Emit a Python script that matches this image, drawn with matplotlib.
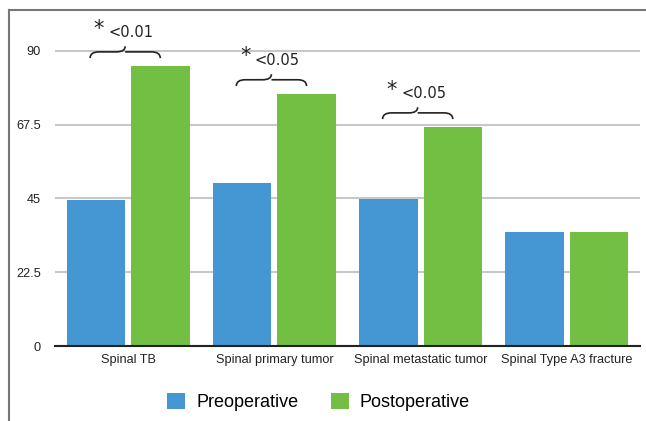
import numpy as np
import matplotlib.pyplot as plt
import matplotlib as mpl
from matplotlib.path import Path
from matplotlib.patches import PathPatch
from matplotlib.lines import Line2D

mpl.rc('font', family='Liberation Sans')

# dados
categorias = ['Spinal TB', 'Spinal primary tumor', 'Spinal metastatic tumor', 'Spinal Type A3 fracture']
pre = [44.5, 49.7, 44.8, 34.8]
pos = [85.4, 76.9, 66.8, 34.8]
p_valores = ['<0.01', '<0.05', '<0.05', None]

azul = '#4597d3'
verde = '#72bf44'

fig = plt.figure(figsize=[6.46, 4.21], dpi=100)
ax = fig.add_axes([0.0851, 0.178, 0.9056, 0.779])

x = np.arange(len(categorias))
larg = 0.4
ax.bar(x - 0.22, pre, larg, color=azul, label='Preoperative', zorder=2)
ax.bar(x + 0.22, pos, larg, color=verde, label='Postoperative', zorder=2)

ax.set_xlim(-0.5, 3.5)
ax.set_ylim(0, 100)
ax.set_yticks([0, 22.5, 45, 67.5, 90])
ax.set_yticklabels(['0', '22.5', '45', '67.5', '90'])
ax.yaxis.grid(True, color='#c8c8c8', linewidth=1.5, zorder=0)
ax.set_axisbelow(True)
ax.set_xticks(x)
ax.set_xticklabels(categorias)
ax.tick_params(axis='both', length=0, labelsize=9.2, colors='#222222')
ax.tick_params(axis='y', pad=10)
ax.tick_params(axis='x', pad=6)
for s in ['top', 'right', 'left']:
    ax.spines[s].set_visible(False)
ax.spines['bottom'].set_color('#222222')
ax.spines['bottom'].set_linewidth(1.5)


# chaves com os valores de p
def chave(ax, xc, base, w=0.24):
    meio = base + 1.9
    ponta = base + 3.6
    r = 0.06
    verts = [(xc - w, base), (xc - w, meio), (xc - w + r, meio),
             (xc - r, meio), (xc, meio), (xc, ponta),
             (xc, meio), (xc + r, meio),
             (xc + w - r, meio), (xc + w, meio), (xc + w, base)]
    codes = [Path.MOVETO, Path.CURVE3, Path.CURVE3,
             Path.LINETO, Path.CURVE3, Path.CURVE3,
             Path.MOVETO, Path.CURVE3,
             Path.LINETO, Path.CURVE3, Path.CURVE3]
    ax.add_patch(PathPatch(Path(verts, codes), fill=False, lw=1.2, color='#222222', zorder=3))


for i, p in enumerate(p_valores):
    if p is None:
        continue
    b = pos[i] + 2.4
    chave(ax, x[i] - 0.02, b)
    ax.text(x[i] + 0.02, b + 7.7, p, ha='center', va='center', fontsize=10.5,
            family='DejaVu Sans', color='#222222')
    ax.text(x[i] - 0.2, b + 9.0, '*', ha='center', va='center', fontsize=15,
            family='DejaVu Sans', color='#222222')

# legenda
fig.legend(loc='center', bbox_to_anchor=(0.493, 0.045), ncol=2, frameon=False,
           fontsize=13, handlelength=1.0, handleheight=1.0, columnspacing=1.8,
           handletextpad=0.6)

# moldura
fig.add_artist(Line2D([0.014, 0.014], [0, 0.976], color='#777777', lw=1.5))
fig.add_artist(Line2D([0.014, 1.0], [0.976, 0.976], color='#777777', lw=1.5))

fig.savefig('out.png', transparent=False)
